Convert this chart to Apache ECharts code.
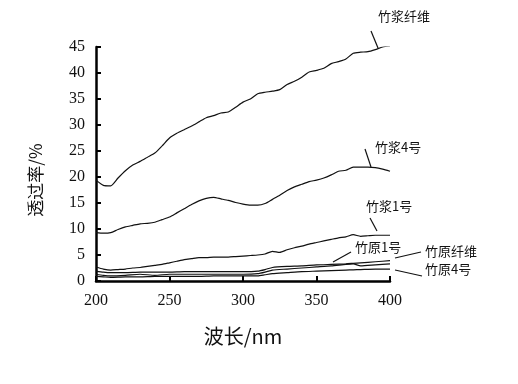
<!DOCTYPE html>
<html><head><meta charset="utf-8">
<script src="https://cdn.jsdelivr.net/npm/echarts@6/dist/echarts.min.js"></script>
<style>html,body{margin:0;padding:0;background:#fff}#c{width:518px;height:384px}</style>
</head><body><div id="c"></div>
<script>
const wl5 = [200,205,210,215,220,225,230,235,240,245,250,255,260,265,270,275,280,285,290,295,300,305,310,315,320,325,330,335,340,345,350,355,360,365,370,375,380,385,390,395,400];
const wl10 = [200,205,210,220,230,240,250,260,270,280,290,300,310,315,320,330,340,350,360,370,375,380,390,400];
const zjxw = [19.4,18.4,18.3,19.8,21.2,22.3,23.0,23.8,24.6,26.0,27.5,28.4,29.1,29.8,30.6,31.4,31.8,32.3,32.5,33.4,34.4,35.0,36.0,36.3,36.5,36.8,37.8,38.4,39.2,40.2,40.5,40.9,41.8,42.2,42.7,43.8,44.0,44.1,44.5,45.0,45.2];
const zj4 = [9.3,9.2,9.3,9.9,10.4,10.7,11.0,11.1,11.3,11.8,12.3,13.1,13.9,14.7,15.4,15.9,16.1,15.8,15.5,15.1,14.8,14.6,14.6,14.9,15.7,16.5,17.4,18.1,18.6,19.1,19.4,19.8,20.4,21.1,21.3,21.9,21.9,21.9,21.8,21.5,21.1];
const zj1 = [2.7,2.3,2.1,2.2,2.3,2.5,2.6,2.8,3.0,3.2,3.5,3.8,4.1,4.3,4.5,4.5,4.6,4.6,4.6,4.7,4.8,4.9,5.0,5.2,5.7,5.5,6.0,6.4,6.7,7.1,7.4,7.7,8.0,8.3,8.5,8.9,8.6,8.7,8.8,8.8,8.8];
const zyxw = [1.9,1.7,1.6,1.6,1.7,1.7,1.7,1.8,1.8,1.8,1.8,1.8,1.9,2.2,2.6,2.8,2.9,3.1,3.2,3.3,3.4,3.5,3.7,3.9];
const zy1 = [1.3,1.1,1.0,1.1,1.3,1.1,1.3,1.3,1.3,1.3,1.3,1.3,1.4,1.7,2.1,2.3,2.5,2.7,2.9,3.2,3.3,2.9,3.1,3.3];
const zy4 = [0.9,0.8,0.7,0.8,0.8,0.9,0.9,0.9,0.9,1.0,1.0,1.0,1.0,1.2,1.4,1.6,1.8,1.9,2.0,2.1,2.15,2.2,2.3,2.3];
const xTicks = [200,250,300,350,400];
const yTicks = [0,5,10,15,20,25,30,35,40,45];
const seriesNames = ['竹浆纤维','竹浆4号','竹浆1号','竹原纤维','竹原1号','竹原4号'];

const pair = (xs, ys) => xs.map((x,i)=>[x, ys[i]]);
const serif = 'Liberation Serif';
const cjk = 'Noto Sans CJK SC';
const mk = (name, data) => ({name, type:'line', data, symbol:'none', smooth:0.2,
  lineStyle:{color:'#111', width:1.2}, animation:false, z:3});

const chart = echarts.init(document.getElementById('c'));
const lbl = (t, x, y) => ({type:'text', left:x, top:y, style:{text:t, fontFamily:cjk, fontSize:13, fill:'#111'}});
const ln = (x1,y1,x2,y2) => ({type:'line', shape:{x1,y1,x2,y2}, style:{stroke:'#111', lineWidth:1.2}});
chart.setOption({
  animation:false,
  backgroundColor:'#fff',
  textStyle:{fontFamily:serif},
  grid:{left:96, right:128, top:47, bottom:103},
  xAxis:{type:'value', min:200, max:400, interval:50,
    axisLine:{lineStyle:{color:'#000', width:2.5}},
    axisTick:{inside:true, length:5, lineStyle:{color:'#000', width:2}},
    axisLabel:{color:'#111', fontFamily:serif, fontSize:16, margin:12,
      formatter:v=>xTicks.includes(v)?String(v):''},
    splitLine:{show:false},
    name:'波长/nm', nameLocation:'middle', nameGap:45,
    nameTextStyle:{color:'#111', fontFamily:cjk, fontSize:20}
  },
  yAxis:{type:'value', min:0, max:45, interval:5,
    axisLine:{show:true, lineStyle:{color:'#000', width:2.5}},
    axisTick:{show:true, inside:true, length:5, lineStyle:{color:'#000', width:2}},
    axisLabel:{color:'#111', fontFamily:serif, fontSize:16, margin:11,
      formatter:v=>yTicks.includes(v)?String(v):''},
    splitLine:{show:false}
  },
  series:[
    mk(seriesNames[0], pair(wl5, zjxw)),
    mk(seriesNames[1], pair(wl5, zj4)),
    mk(seriesNames[2], pair(wl5, zj1)),
    mk(seriesNames[3], pair(wl10, zyxw)),
    mk(seriesNames[4], pair(wl10, zy1)),
    mk(seriesNames[5], pair(wl10, zy4))
  ],
  graphic:[
    {type:'text', x:36, y:180, rotation:Math.PI/2, style:{text:'透过率/%', fontFamily:cjk, fontSize:17, fill:'#111', align:'center', verticalAlign:'middle'}},
    lbl(seriesNames[0], 378, 10),
    ln(371,31,378,48),
    lbl(seriesNames[1], 375, 141),
    ln(365,149,371,167),
    lbl(seriesNames[2], 366, 200),
    ln(370,218,377,231),
    lbl(seriesNames[4], 355, 241),
    ln(351,252,333,262),
    lbl(seriesNames[3], 425, 245),
    ln(395,258,421,252),
    lbl(seriesNames[5], 425, 263),
    ln(395,270,422,276)
  ]
});
</script></body></html>
